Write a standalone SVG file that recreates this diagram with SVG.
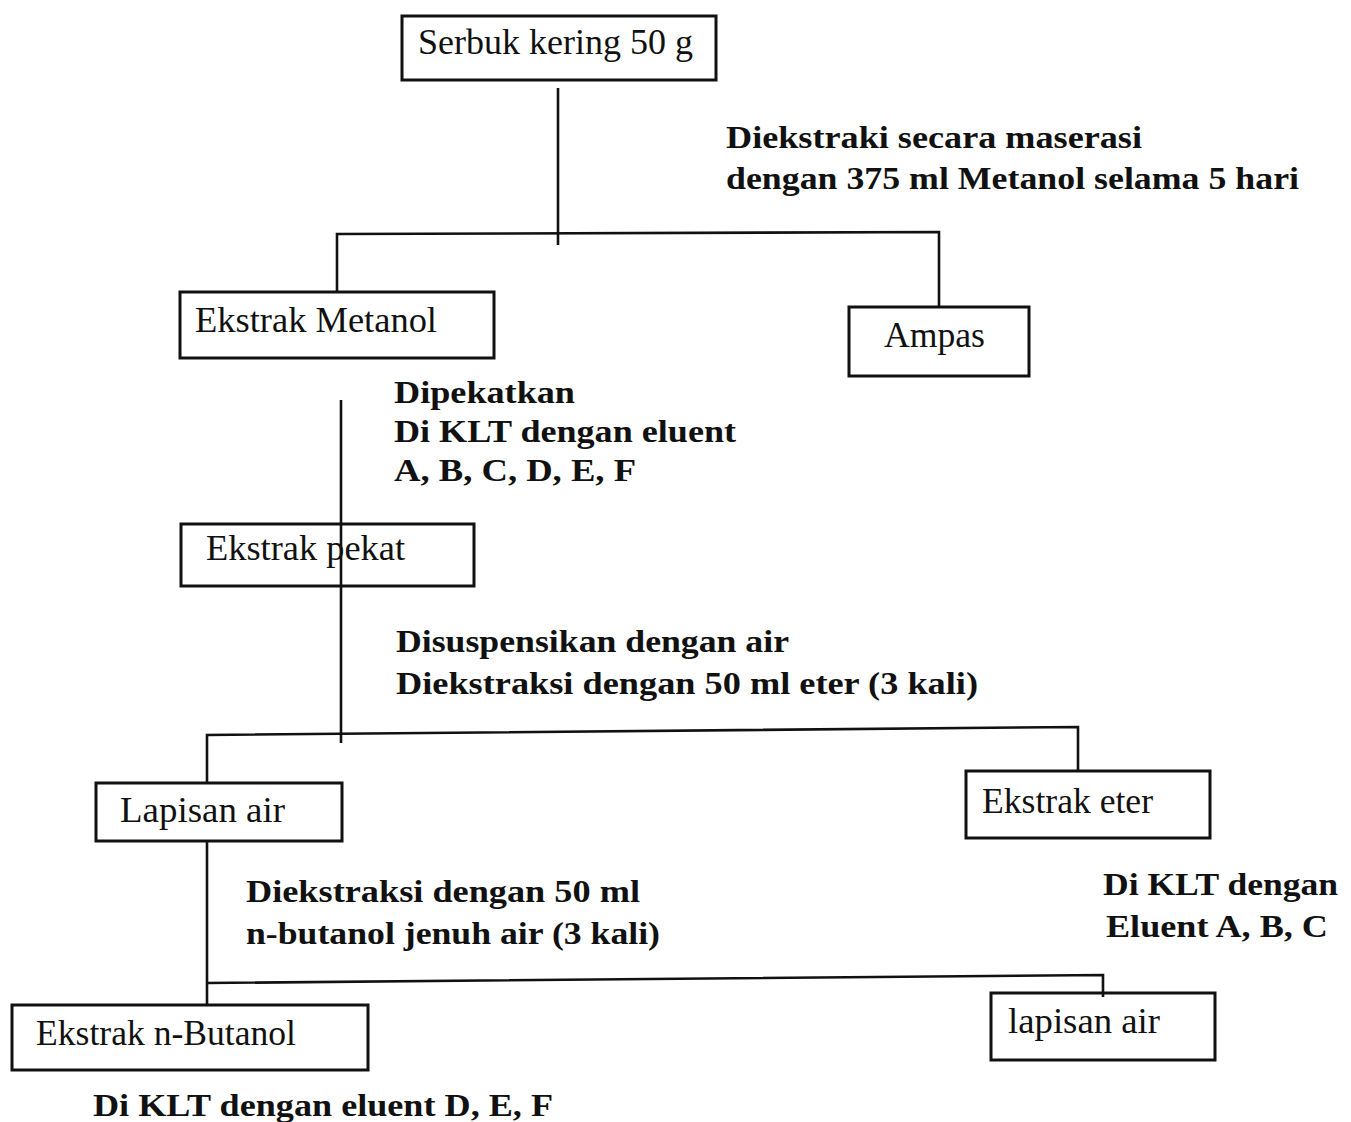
<svg xmlns="http://www.w3.org/2000/svg" width="1351" height="1122" viewBox="0 0 1351 1122">
<style>
.box{fill:none;stroke:#111;stroke-width:3}
.ln{fill:none;stroke:#111;stroke-width:2.6}
.t{font-family:"Liberation Serif","Times New Roman",serif;font-size:36px;fill:#111}
.b{font-family:"Liberation Serif","Times New Roman",serif;font-size:31px;font-weight:bold;fill:#111}
</style>
<rect width="1351" height="1122" fill="#fff"/>
<g id="connectors">
<line class="ln" x1="558" y1="88" x2="558" y2="245"/>
<polyline class="ln" points="337,292 337,234 939,232 939,307"/>
<line class="ln" x1="341" y1="400" x2="341" y2="743"/>
<polyline class="ln" points="207,783 207,735 1078,727 1078,771"/>
<line class="ln" x1="207" y1="841" x2="207" y2="1005"/>
<polyline class="ln" points="207,983 1103,975 1103,997"/>
</g>
<g id="serbuk"><rect class="box" x="402" y="16" width="314" height="64"/><text class="t" x="418" y="54" textLength="275" lengthAdjust="spacingAndGlyphs">Serbuk kering 50 g</text></g>
<g id="label1"><text class="b" x="726" y="148" textLength="416" lengthAdjust="spacingAndGlyphs">Diekstraki secara maserasi</text><text class="b" x="726" y="189" textLength="573" lengthAdjust="spacingAndGlyphs">dengan 375 ml Metanol selama 5 hari</text></g>
<g id="metanol"><rect class="box" x="180" y="292" width="314" height="66"/><text class="t" x="195" y="332" textLength="242" lengthAdjust="spacingAndGlyphs">Ekstrak Metanol</text></g>
<g id="ampas"><rect class="box" x="849" y="307" width="180" height="69"/><text class="t" x="884" y="347" textLength="101" lengthAdjust="spacingAndGlyphs">Ampas</text></g>
<g id="label2"><text class="b" x="394" y="403" textLength="181" lengthAdjust="spacingAndGlyphs">Dipekatkan</text><text class="b" x="394" y="442" textLength="342" lengthAdjust="spacingAndGlyphs">Di KLT dengan eluent</text><text class="b" x="394" y="481" textLength="242" lengthAdjust="spacingAndGlyphs">A, B, C, D, E, F</text></g>
<g id="pekat"><rect class="box" x="181" y="524" width="293" height="62"/><text class="t" x="206" y="560" textLength="199" lengthAdjust="spacingAndGlyphs">Ekstrak pekat</text></g>
<g id="label3"><text class="b" x="396" y="652" textLength="393" lengthAdjust="spacingAndGlyphs">Disuspensikan dengan air</text><text class="b" x="396" y="694" textLength="582" lengthAdjust="spacingAndGlyphs">Diekstraksi dengan 50 ml eter (3 kali)</text></g>
<g id="lapisan1"><rect class="box" x="96" y="783" width="246" height="58"/><text class="t" x="120" y="822" textLength="165" lengthAdjust="spacingAndGlyphs">Lapisan air</text></g>
<g id="eter"><rect class="box" x="966" y="771" width="244" height="67"/><text class="t" x="982" y="813" textLength="171" lengthAdjust="spacingAndGlyphs">Ekstrak eter</text></g>
<g id="label4"><text class="b" x="246" y="902" textLength="394" lengthAdjust="spacingAndGlyphs">Diekstraksi dengan 50 ml</text><text class="b" x="246" y="944" textLength="414" lengthAdjust="spacingAndGlyphs">n-butanol jenuh air (3 kali)</text></g>
<g id="label5"><text class="b" x="1103" y="895" textLength="235" lengthAdjust="spacingAndGlyphs">Di KLT dengan</text><text class="b" x="1106" y="937" textLength="222" lengthAdjust="spacingAndGlyphs">Eluent A, B, C</text></g>
<g id="butanol"><rect class="box" x="12" y="1005" width="356" height="65"/><text class="t" x="36" y="1045" textLength="260" lengthAdjust="spacingAndGlyphs">Ekstrak n-Butanol</text></g>
<g id="lapisan2"><rect class="box" x="991" y="993" width="224" height="67"/><text class="t" x="1008" y="1033" textLength="152" lengthAdjust="spacingAndGlyphs">lapisan air</text></g>
<g id="label6"><text class="b" x="93" y="1116" textLength="460" lengthAdjust="spacingAndGlyphs">Di KLT dengan eluent D, E, F</text></g>
</svg>
